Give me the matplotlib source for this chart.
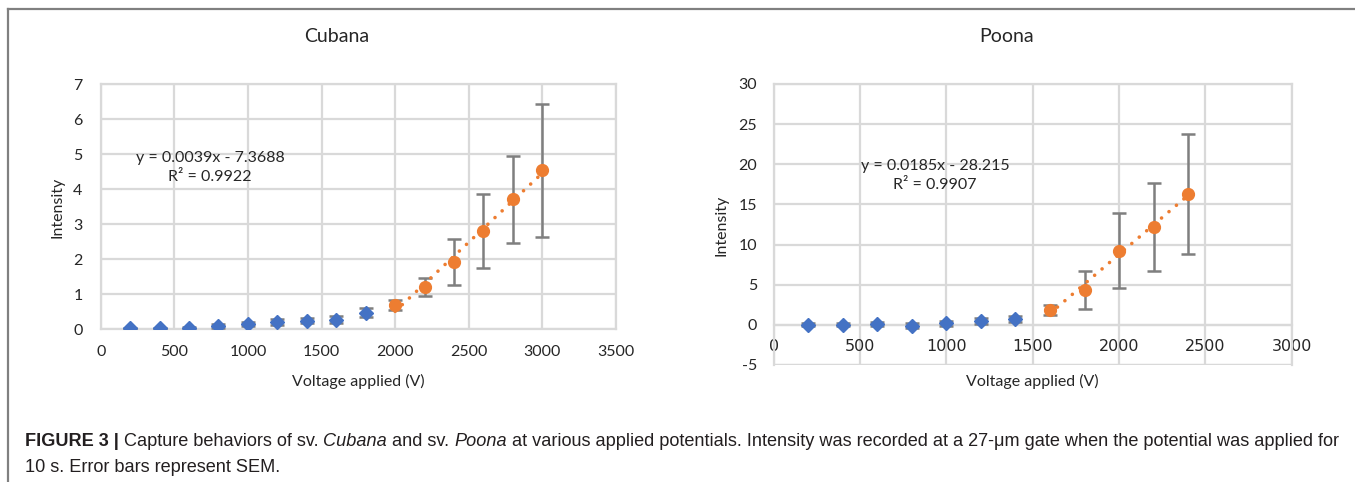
import numpy as np
import matplotlib
matplotlib.use("Agg")
import matplotlib.pyplot as plt
from matplotlib.lines import Line2D

plt.rcParams["axes.unicode_minus"] = False

# Cubana
cub_x_low = [200, 400, 600, 800, 1000, 1200, 1400, 1600, 1800]
cub_y_low = [0.03, 0.03, 0.05, 0.10, 0.15, 0.21, 0.24, 0.28, 0.48]
cub_e_low = [0.02, 0.02, 0.03, 0.05, 0.06, 0.08, 0.07, 0.09, 0.13]
cub_x_high = [2000, 2200, 2400, 2600, 2800, 3000]
cub_y_high = [0.70, 1.21, 1.93, 2.82, 3.72, 4.55]
cub_e_high = [0.15, 0.25, 0.65, 1.06, 1.24, 1.90]

# Poona
poo_x_low = [200, 400, 600, 800, 1000, 1200, 1400]
poo_y_low = [0.0, 0.0, 0.08, -0.10, 0.17, 0.46, 0.75]
poo_e_low = [0.20, 0.20, 0.25, 0.30, 0.30, 0.35, 0.40]
poo_x_high = [1600, 1800, 2000, 2200, 2400]
poo_y_high = [1.85, 4.30, 9.25, 12.20, 16.30]
poo_e_high = [0.58, 2.35, 4.65, 5.50, 7.45]

BLUE = "#4472C4"
ORANGE = "#ED7D31"
GRID = "#D9D9D9"
ERR = "#7F7F7F"
TXT = "#262626"
CHART_FONT = ["Lato", "DejaVu Sans"]
FS = 11.5

fig = plt.figure(figsize=(13.55, 4.82), dpi=100)


def px(x0, y0, x1, y1):
    W, H = 1355.0, 482.0
    return [x0 / W, 1 - y1 / H, (x1 - x0) / W, (y1 - y0) / H]


def draw_panel(ax, xl, yl, el, xh, yh, eh, xlim, ylim, ystep):
    ax.set_xlim(*xlim)
    ax.set_ylim(*ylim)
    ax.set_xticks(np.arange(xlim[0], xlim[1] + 1, 500))
    ax.set_yticks(np.arange(ylim[0], ylim[1] + 0.01, ystep))
    ax.grid(True, color=GRID, linewidth=1.6)
    ax.set_axisbelow(True)
    for s in ax.spines.values():
        s.set_color(GRID)
        s.set_linewidth(1.6)
    ax.tick_params(length=0, labelsize=FS, colors=TXT)
    for lab in ax.get_xticklabels() + ax.get_yticklabels():
        lab.set_family(CHART_FONT)

    ax.errorbar(xl, yl, yerr=el, fmt="D", color=BLUE, ms=7.5, ecolor=ERR,
                elinewidth=1.8, capsize=5, capthick=1.8, zorder=3)
    ax.errorbar(xh, yh, yerr=eh, fmt="o", color=ORANGE, ms=8.5, ecolor=ERR,
                elinewidth=1.8, capsize=5, capthick=1.8, zorder=3)
    k, b = np.polyfit(xh, yh, 1)
    xs = np.array([xh[0], xh[-1]])
    ax.plot(xs, k * xs + b, color=ORANGE, lw=2.6, ls=(0, (0.01, 2.7)),
            dash_capstyle="round", zorder=4)


ax1 = fig.add_axes(px(100.7, 84.3, 616, 329.3))
draw_panel(ax1, cub_x_low, cub_y_low, cub_e_low, cub_x_high, cub_y_high,
           cub_e_high, (0, 3500), (0, 7), 1)
ax1.tick_params(axis="x", pad=11)
ax1.tick_params(axis="y", pad=13)
ax1.text(742, 4.62, "y = 0.0039x - 7.3688\nR² = 0.9922", ha="center",
         va="center", fontsize=FS, family=CHART_FONT, color=TXT, linespacing=1.45)

ax2 = fig.add_axes(px(773.8, 84, 1291.7, 365))
draw_panel(ax2, poo_x_low, poo_y_low, poo_e_low, poo_x_high, poo_y_high,
           poo_e_high, (0, 3000), (-5, 30), 5)
ax2.spines["bottom"].set_position(("data", 0))
ax2.axhline(-5, color=GRID, lw=1.6, zorder=0)
ax2.tick_params(axis="x", pad=10)
ax2.tick_params(axis="y", pad=12)
ax2.text(934, 18.65, "y = 0.0185x - 28.215\nR² = 0.9907",
         ha="center", va="center", fontsize=FS, family=CHART_FONT, color=TXT,
         linespacing=1.45)

# titles and axis labels
fig.text(337 / 1355, 1 - 37 / 482, "Cubana", ha="center", va="center",
         fontsize=14, family=CHART_FONT, color=TXT)
fig.text(1007 / 1355, 1 - 37 / 482, "Poona", ha="center", va="center",
         fontsize=14, family=CHART_FONT, color=TXT)
fig.text(358 / 1355, 1 - 381 / 482, "Voltage applied (V)", ha="center",
         va="center", fontsize=FS, family=CHART_FONT, color=TXT)
fig.text(1032 / 1355, 1 - 381 / 482, "Voltage applied (V)", ha="center",
         va="center", fontsize=FS, family=CHART_FONT, color=TXT)
fig.text(58 / 1355, 1 - 207 / 482, "Intensity", ha="center", va="center",
         rotation=90, fontsize=FS, family=CHART_FONT, color=TXT)
fig.text(721 / 1355, 1 - 225 / 482, "Intensity", ha="center", va="center",
         rotation=90, fontsize=FS, family=CHART_FONT, color=TXT)

# frame lines (top and left)
fig.add_artist(Line2D([8 / 1355, 1], [1 - 9 / 482, 1 - 9 / 482],
                      color="#808080", lw=1.6))
fig.add_artist(Line2D([8 / 1355, 8 / 1355], [0, 1 - 9 / 482],
                      color="#808080", lw=1.6))

# caption with mixed styles, sized to span the same width as the original
CAP_FONT = ["Liberation Sans", "DejaVu Sans"]
renderer = fig.canvas.get_renderer()
pieces = [
    ("FIGURE 3 |", "bold", "normal"),
    (" Capture behaviors of sv. ", "normal", "normal"),
    ("Cubana", "normal", "italic"),
    (" and sv. ", "normal", "normal"),
    ("Poona", "normal", "italic"),
    (" at various applied potentials. Intensity was recorded at a 27-μm gate "
     "when the potential was applied for", "normal", "normal"),
]


def place_caption(size):
    xpos = 25
    made = []
    for s, w, st in pieces:
        t = fig.text(xpos / 1355, 1 - 441 / 482, s, ha="left", va="center",
                     fontsize=size, family=CAP_FONT, weight=w, style=st,
                     color="#231F20")
        made.append(t)
        xpos += t.get_window_extent(renderer).width
    return made, xpos


made, end = place_caption(10)
for t in made:
    t.remove()
cap_fs = 10 * (1340 - 25) / (end - 25)
place_caption(cap_fs)
fig.text(25 / 1355, 1 - 467 / 482, "10 s. Error bars represent SEM.",
         ha="left", va="center", fontsize=cap_fs, family=CAP_FONT,
         color="#231F20")

fig.savefig("out.png", dpi=100)
